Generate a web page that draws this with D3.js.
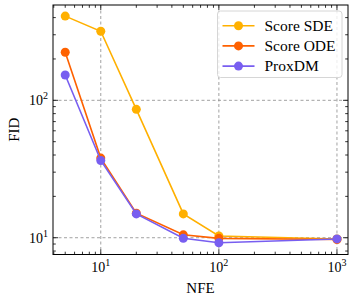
<!DOCTYPE html>
<html><head><meta charset="utf-8">
<script src="https://cdn.jsdelivr.net/npm/d3@7"></script>
<style>body{margin:0;background:#fff}svg{display:block}</style>
</head><body>
<svg id="c" width="357" height="300"></svg>
<script>
const nfe = [5, 10, 20, 50, 100, 1000];
const seriesNames = ["Score SDE", "Score ODE", "ProxDM"];
const scoreSDE = [410, 318, 86, 14.9, 10.3, 9.8];
const scoreODE = [224, 38, 15.1, 10.5, 9.9, 9.7];
const proxDM = [153, 36.5, 14.9, 9.9, 9.2, 9.8];
const colors = ["#FFB000", "#FE6100", "#785EF0"];
const xMajor = [10, 100, 1000];
const yMajor = [10, 100];
const xTickLabels = ["1", "2", "3"];
const yTickLabels = ["1", "2"];

const FONT = "Liberation Serif";
const svg = d3.select("#c");
const L = 53, R = 348, T = 5, B = 254.5;
const x = d3.scaleLog().domain([3.94, 1240]).range([L, R]);
const y = d3.scaleLog().domain([7.55, 494]).range([B, T]);

// grid
const g = svg.append("g");
g.selectAll(".gx").data(xMajor).join("line")
  .attr("x1", d => x(d)).attr("x2", d => x(d)).attr("y1", T).attr("y2", B)
  .attr("stroke", "#8a8a8a").attr("stroke-width", 0.8).attr("stroke-dasharray", "3,2.5");
g.selectAll(".gy").data(yMajor).join("line")
  .attr("y1", d => y(d)).attr("y2", d => y(d)).attr("x1", L).attr("x2", R)
  .attr("stroke", "#8a8a8a").attr("stroke-width", 0.8).attr("stroke-dasharray", "3,2.5");

// minor ticks
const xMinor = [];
for (let e = 0; e <= 3; e++) for (let m = 2; m <= 9; m++) { const v = m * Math.pow(10, e); if (v >= 3.94 && v <= 1240) xMinor.push(v); }
const yMinor = [];
for (let e = 0; e <= 2; e++) for (let m = 2; m <= 9; m++) { const v = m * Math.pow(10, e); if (v >= 7.55 && v <= 494) yMinor.push(v); }

const ax = svg.append("g").attr("stroke", "#000").attr("stroke-width", 0.8);
function xt(vals, len) {
  vals.forEach(v => {
    ax.append("line").attr("x1", x(v)).attr("x2", x(v)).attr("y1", B).attr("y2", B - len);
    ax.append("line").attr("x1", x(v)).attr("x2", x(v)).attr("y1", T).attr("y2", T + len);
  });
}
function yt(vals, len) {
  vals.forEach(v => {
    ax.append("line").attr("y1", y(v)).attr("y2", y(v)).attr("x1", L).attr("x2", L + len);
    ax.append("line").attr("y1", y(v)).attr("y2", y(v)).attr("x1", R).attr("x2", R - len);
  });
}
xt(xMajor, 5); xt(xMinor, 2.8); yt(yMajor, 5); yt(yMinor, 2.8);

// lines
const data = [scoreSDE, scoreODE, proxDM];
const line = d3.line().x((d, i) => x(nfe[i])).y(d => y(d));
data.forEach((s, k) => {
  svg.append("path").datum(s).attr("d", line).attr("fill", "none")
    .attr("stroke", colors[k]).attr("stroke-width", 1.6);
  svg.selectAll(null).data(s).join("circle")
    .attr("cx", (d, i) => x(nfe[i])).attr("cy", d => y(d)).attr("r", 4.5).attr("fill", colors[k]);
});

// frame
svg.append("rect").attr("x", L).attr("y", T).attr("width", R - L).attr("height", B - T)
  .attr("fill", "none").attr("stroke", "#000").attr("stroke-width", 1);

function txt(parent) { return parent.append("text").attr("font-family", FONT).attr("fill", "#000"); }

// tick labels
xMajor.forEach((v, i) => {
  const t = txt(svg).attr("x", x(v)).attr("y", 272).attr("text-anchor", "middle").attr("font-size", 14);
  t.append("tspan").text("10");
  t.append("tspan").attr("font-size", 10).attr("dy", -6).text(xTickLabels[i]);
});
yMajor.forEach((v, i) => {
  const t = txt(svg).attr("x", 48).attr("y", y(v) + 5).attr("text-anchor", "end").attr("font-size", 14);
  t.append("tspan").text("10");
  t.append("tspan").attr("font-size", 10).attr("dy", -6).text(yTickLabels[i]);
});

// axis labels
txt(svg).attr("x", (L + R) / 2).attr("y", 293).attr("text-anchor", "middle").attr("font-size", 15).text("NFE");
txt(svg).attr("transform", `translate(19,${(T + B) / 2}) rotate(-90)`).attr("text-anchor", "middle").attr("font-size", 15).text("FID");

// legend
const lg = svg.append("g");
lg.append("rect").attr("x", 217.5).attr("y", 11).attr("width", 124.5).attr("height", 66.5).attr("rx", 3)
  .attr("fill", "rgba(255,255,255,0.8)").attr("stroke", "#d6d6d6").attr("stroke-width", 1);
seriesNames.forEach((n, k) => {
  const yy = 25.7 + k * 20.2;
  lg.append("line").attr("x1", 222.5).attr("x2", 254.5).attr("y1", yy).attr("y2", yy).attr("stroke", colors[k]).attr("stroke-width", 1.6);
  lg.append("circle").attr("cx", 238.5).attr("cy", yy).attr("r", 4.5).attr("fill", colors[k]);
  txt(lg).attr("x", 264.5).attr("y", yy + 5).attr("font-size", 15.5).text(n);
});
</script>
</body></html>
